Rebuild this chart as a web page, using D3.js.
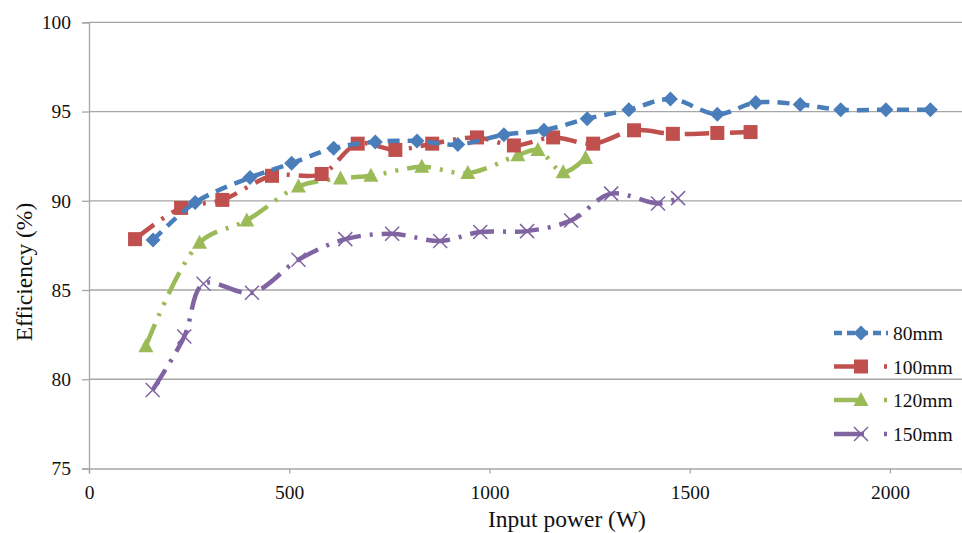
<!DOCTYPE html>
<html>
<head>
<meta charset="utf-8">
<script src="https://cdn.jsdelivr.net/npm/d3@7"></script>
<style>
  body { margin: 0; background: #fff; }
  text { font-family: "Liberation Serif", "Times New Roman", Tinos, "DejaVu Serif", serif; fill: #111; }
</style>
</head>
<body>
<div id="chart"></div>
<script>
// data
const series = ["80mm", "100mm", "120mm", "150mm"];

const p80 = [160, 265, 402, 506, 611, 715, 819, 921, 1036, 1136, 1244, 1348, 1452, 1569, 1665, 1776, 1877, 1990, 2101];
const e80 = [87.8, 89.9, 91.3, 92.1, 92.95, 93.3, 93.35, 93.15, 93.7, 93.95, 94.6, 95.1, 95.7, 94.85, 95.5, 95.4, 95.1, 95.1, 95.1];

const p100 = [115, 230, 333, 457, 581, 671, 765, 857, 969, 1061, 1159, 1259, 1361, 1458, 1569, 1652];
const e100 = [87.85, 89.6, 90.05, 91.4, 91.5, 93.2, 92.85, 93.2, 93.55, 93.1, 93.55, 93.2, 93.95, 93.75, 93.8, 93.85];

const p120 = [142, 276, 394, 523, 628, 704, 831, 946, 1071, 1121, 1184, 1240];
const e120 = [81.85, 87.65, 88.9, 90.8, 91.25, 91.4, 91.9, 91.55, 92.55, 92.85, 91.6, 92.4];

const p150 = [159, 238, 286, 407, 523, 640, 757, 877, 977, 1094, 1204, 1304, 1421, 1471];
const e150 = [79.4, 82.4, 85.35, 84.85, 86.7, 87.85, 88.15, 87.75, 88.25, 88.3, 88.9, 90.4, 89.85, 90.15];

const xTicks = [0, 500, 1000, 1500, 2000];
const yTicks = [75, 80, 85, 90, 95, 100];

const width = 962, height = 533;
const serif = '"Liberation Serif", "Times New Roman", Tinos, "DejaVu Serif", serif';

const svg = d3.select("#chart").append("svg")
  .attr("width", width).attr("height", height)
  .attr("font-family", serif);

const x = d3.scaleLinear().domain([0, 2180]).range([89, 962]);
const y = d3.scaleLinear().domain([75, 100]).range([468.5, 22.3]);

const gridColor = "#a6a6a6";

// gridlines
svg.append("g").selectAll("line")
  .data(yTicks.slice(1))
  .enter().append("line")
    .attr("x1", x(0)).attr("x2", width)
    .attr("y1", d => y(d)).attr("y2", d => y(d))
    .attr("stroke", gridColor).attr("stroke-width", 1.3);

// axes
const yAxis = svg.append("g")
  .attr("transform", "translate(" + x(0) + ",0)")
  .call(d3.axisLeft(y).tickValues(yTicks).tickSize(7).tickPadding(11).tickFormat(d3.format("d")));
yAxis.attr("font-family", serif).attr("font-size", 19.5);
yAxis.select(".domain").attr("stroke", gridColor).attr("stroke-width", 1.3);
yAxis.selectAll(".tick line").attr("stroke", gridColor).attr("stroke-width", 1.3);
yAxis.selectAll("text").attr("fill", "#111");

const xAxis = svg.append("g")
  .attr("transform", "translate(0," + y(75) + ")")
  .call(d3.axisBottom(x).tickValues(xTicks).tickSize(5).tickPadding(12).tickFormat(d3.format("d")));
xAxis.attr("font-family", serif).attr("font-size", 19.5);
xAxis.select(".domain").attr("stroke", gridColor).attr("stroke-width", 1.3);
xAxis.selectAll(".tick line").attr("stroke", gridColor).attr("stroke-width", 1.3);
xAxis.selectAll("text").attr("fill", "#111");

// axis titles
svg.append("text")
  .attr("x", 567).attr("y", 527)
  .attr("text-anchor", "middle")
  .attr("font-size", 23.5)
  .text("Input power (W)");

svg.append("text")
  .attr("transform", "translate(32,272) rotate(-90)")
  .attr("text-anchor", "middle")
  .attr("font-size", 23.5)
  .text("Efficiency (%)");

// series styles
const colors = ["#4a7ebb", "#c0504d", "#9bbb59", "#8064a2"];
const dashes = ["12,8", "24,9,3,9", "24,9,3,9,3,9", "24,9,3,9"];
const shapes = ["diamond", "square", "triangle", "cross"];

const allData = [
  d3.zip(p80, e80),
  d3.zip(p100, e100),
  d3.zip(p120, e120),
  d3.zip(p150, e150)
];

const line = d3.line()
  .x(d => x(d[0]))
  .y(d => y(d[1]))
  .curve(d3.curveCatmullRom.alpha(0.5));

function drawMarker(g, shape, color, cx, cy) {
  if (shape == "diamond") {
    g.append("path")
      .attr("d", "M0,-7.5L7.5,0L0,7.5L-7.5,0Z")
      .attr("transform", "translate(" + cx + "," + cy + ")")
      .attr("fill", color);
  } else if (shape == "square") {
    g.append("rect")
      .attr("x", cx - 7).attr("y", cy - 7)
      .attr("width", 14).attr("height", 14)
      .attr("fill", color);
  } else if (shape == "triangle") {
    g.append("path")
      .attr("d", "M0,-8L7.5,6L-7.5,6Z")
      .attr("transform", "translate(" + cx + "," + cy + ")")
      .attr("fill", color);
  } else {
    g.append("path")
      .attr("d", "M-7,-7L7,7M-7,7L7,-7")
      .attr("transform", "translate(" + cx + "," + cy + ")")
      .attr("stroke", color).attr("stroke-width", 1.5).attr("fill", "none");
  }
}

// draw back to front: purple, green, red, blue
[3, 2, 1, 0].forEach(i => {
  const g = svg.append("g");
  g.append("path")
    .datum(allData[i])
    .attr("d", line)
    .attr("fill", "none")
    .attr("stroke", colors[i])
    .attr("stroke-width", 4.5)
    .attr("stroke-dasharray", dashes[i]);
  allData[i].forEach(d => drawMarker(g, shapes[i], colors[i], x(d[0]), y(d[1])));
});

// legend
const legendY = [333, 366.5, 400, 434];
series.forEach((s, i) => {
  const g = svg.append("g");
  g.append("line")
    .attr("x1", 834).attr("x2", 888)
    .attr("y1", legendY[i]).attr("y2", legendY[i])
    .attr("stroke", colors[i]).attr("stroke-width", 4.5)
    .attr("stroke-dasharray", i == 0 ? "8,5" : "30,20,3,20");
  drawMarker(g, shapes[i], colors[i], 861, legendY[i]);
  g.append("text")
    .attr("x", 893).attr("y", legendY[i] + 7)
    .attr("font-size", 19.5)
    .text(s);
});
</script>
</body>
</html>
